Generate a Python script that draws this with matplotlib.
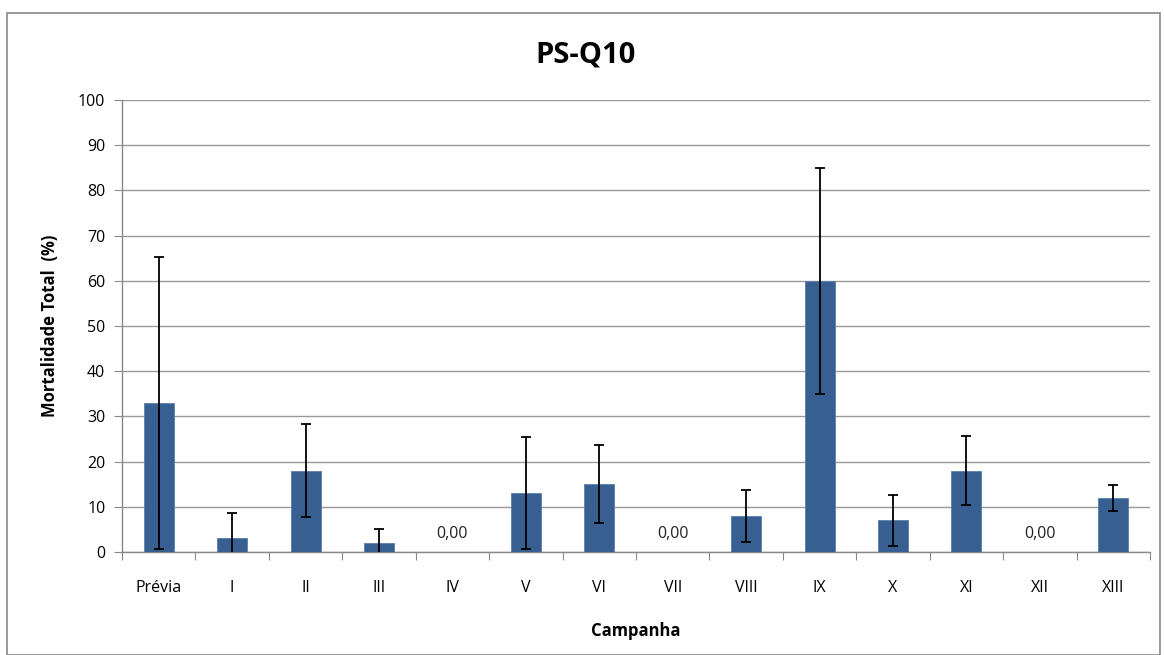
import matplotlib
matplotlib.use("Agg")
import matplotlib.pyplot as plt
from matplotlib.patches import Rectangle

categories = ["Prévia", "I", "II", "III", "IV", "V", "VI", "VII", "VIII", "IX", "X", "XI", "XII", "XIII"]
values = [33, 3, 18, 2, 0, 13, 15, 0, 8, 60, 7, 18, 0, 12]
errors = [32.3, 5.6, 10.3, 3.0, 0, 12.4, 8.6, 0, 5.8, 25, 5.6, 7.6, 0, 2.9]
yticks = [0, 10, 20, 30, 40, 50, 60, 70, 80, 90, 100]

plt.rcParams['font.family'] = ['Open Sans', 'DejaVu Sans']

fig = plt.figure(figsize=(11.64, 6.55), dpi=100)
ax = fig.add_axes([122/1164, 1 - 552/655, (1150-122)/1164, (552-100)/655])

x = list(range(len(categories)))
ax.bar(x, values, width=0.41, color="#385F91", edgecolor="#5A7DAA", linewidth=0.6, zorder=3)
for xi, v, e in zip(x, values, errors):
    if e > 0:
        ax.errorbar(xi, v, yerr=e, fmt='none', ecolor='black', elinewidth=1.3,
                    capsize=3.8, capthick=1.3, zorder=4)
    if v == 0:
        ax.text(xi, 3.9, "0,00", ha='center', va='center', fontsize=11.5, color='#222222', zorder=5)

ax.set_xlim(-0.5, len(categories) - 0.5)
ax.set_ylim(0, 100)
ax.set_yticks(yticks)
ax.set_yticklabels([str(t) for t in yticks], fontsize=11.5)
ax.yaxis.grid(True, color='#999999', linewidth=1.0, zorder=0)
ax.set_axisbelow(True)

ax.set_xticks([i + 0.5 for i in range(-1, len(categories))])
ax.set_xticklabels([])
ax.set_xticks(x, minor=True)
ax.set_xticklabels(categories, minor=True, fontsize=11.5)
ax.tick_params(axis='x', which='major', length=6, color='#888888', direction='out')
ax.tick_params(axis='x', which='minor', length=0, pad=20)
ax.tick_params(axis='y', length=6, color='#888888', direction='out', pad=6)

for s in ['top', 'right']:
    ax.spines[s].set_visible(False)
for s in ['left', 'bottom']:
    ax.spines[s].set_color('#888888')
    ax.spines[s].set_linewidth(1.0)

ax.set_xlabel("Campanha", fontsize=12, fontweight='bold', labelpad=19)
ax.set_ylabel("Mortalidade Total  (%)", fontsize=12, fontweight='bold', labelpad=14)

fig.text(586/1164, 1 - 55/655, "PS-Q10", ha='center', va='center', fontsize=21, fontweight='bold')

fig.patches.append(Rectangle((7/1164, 0), (1160-7)/1164, 1 - 13/655, transform=fig.transFigure,
                             fill=False, edgecolor='#888888', linewidth=1.2))

fig.savefig("out.png", dpi=100)
